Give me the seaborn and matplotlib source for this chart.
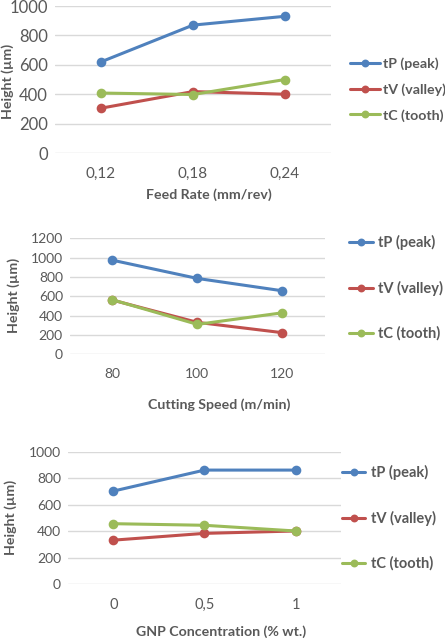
import pandas as pd
import matplotlib.pyplot as plt
import seaborn as sns

series = ['tP (peak)', 'tV (valley)', 'tC (tooth)']
colors = ['#4F81BD', '#C0504D', '#9BBB59']

feed_rate = ['0,12', '0,18', '0,24']
feed_tp = [620, 870, 930]
feed_tv = [305, 418, 400]
feed_tc = [408, 398, 500]

speed = ['80', '100', '120']
speed_tp = [975, 786, 658]
speed_tv = [562, 331, 224]
speed_tc = [565, 310, 430]

gnp = ['0', '0,5', '1']
gnp_tp = [703, 861, 861]
gnp_tv = [333, 384, 402]
gnp_tc = [457, 445, 402]

sns.set_theme(style='white')
plt.rcParams['font.family'] = ['Lato', 'DejaVu Sans']
txt = '#595959'

fig = plt.figure(figsize=(4.45, 6.4), dpi=100)

panels = [
    dict(cats=feed_rate, vals=[feed_tp, feed_tv, feed_tc], xlabel='Feed Rate (mm/rev)',
         ymax=1000, rect=[0.1236, 0.7609, 0.620, 0.2297], ytick=12, xtick=11,
         xl=(0.556, -0.282), yl=(-0.170, 0.49), anchor=(1.069, 0.432),
         lsp=0.92, hl=2.1, htp=0.2, lfs=10.2),
    dict(cats=speed, vals=[speed_tp, speed_tv, speed_tc], xlabel='Cutting Speed (m/min)',
         ymax=1200, rect=[0.157, 0.4464, 0.573, 0.181], ytick=10, xtick=10,
         xl=(0.586, -0.434), yl=(-0.22, 0.51), anchor=(1.094, 0.572),
         lsp=2.08, hl=1.65, htp=0.34, lfs=10.5),
    dict(cats=gnp, vals=[gnp_tp, gnp_tv, gnp_tc], xlabel='GNP Concentration (% wt.)',
         ymax=1000, rect=[0.1528, 0.0870, 0.6135, 0.2073], ytick=10, xtick=10.5,
         xl=(0.559, -0.357), yl=(-0.211, 0.503), anchor=(1.004, 0.50),
         lsp=2.11, hl=1.58, htp=0.41, lfs=10.5),
]

for p in panels:
    rows = []
    for name, v in zip(series, p['vals']):
        for c, h in zip(p['cats'], v):
            rows.append({'x': c, 'h': h, 's': name})
    df = pd.DataFrame(rows)
    ax = fig.add_axes(p['rect'])
    sns.pointplot(data=df, x='x', y='h', hue='s', order=p['cats'], hue_order=series,
                  palette=colors, markers='o', linestyles='-', errorbar=None,
                  markersize=5.3, linewidth=2.2, ax=ax)
    ax.set_ylim(0, p['ymax'])
    ax.set_yticks(range(0, p['ymax'] + 1, 200))
    ax.set_xlim(-0.5, 2.5)
    ax.grid(axis='y', color='#D9D9D9', linewidth=1)
    ax.set_axisbelow(True)
    for s in ax.spines.values():
        s.set_visible(False)
    ax.tick_params(axis='both', length=0, labelcolor=txt)
    ax.tick_params(axis='y', labelsize=p['ytick'], pad=5)
    ax.tick_params(axis='x', labelsize=p['xtick'], pad=10)
    ax.set_xlabel(p['xlabel'], fontsize=10.2, fontweight='bold', color=txt,
                  ha='center', va='center')
    ax.set_ylabel('Height (µm)', fontsize=10.2, fontweight='bold', color=txt,
                  ha='center', va='center')
    ax.xaxis.set_label_coords(*p['xl'])
    ax.yaxis.set_label_coords(*p['yl'])
    leg = ax.legend(loc='center left', bbox_to_anchor=p['anchor'], frameon=False,
                    fontsize=p['lfs'], labelspacing=p['lsp'], handlelength=p['hl'],
                    handletextpad=p['htp'], borderaxespad=0, borderpad=0)
    for t in leg.get_texts():
        t.set_color(txt)
        t.set_fontweight('bold')
    for h in leg.legend_handles:
        h.set_markersize(4)

fig.savefig('out.png', dpi=100)
